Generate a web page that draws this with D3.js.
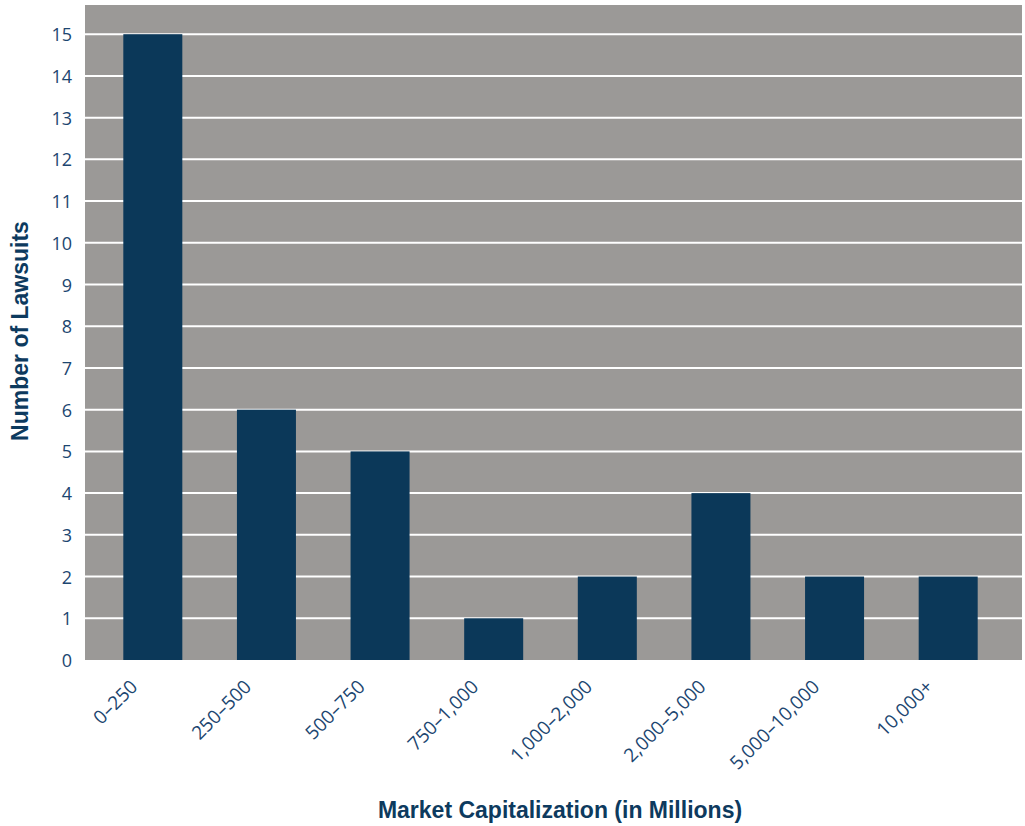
<!DOCTYPE html>
<html>
<head>
<meta charset="utf-8">
<script src="https://cdn.jsdelivr.net/npm/d3@7"></script>
<style>
  body { margin: 0; background: #fff; }
  svg { display: block; }
</style>
</head>
<body>
<svg id="chart"></svg>
<script>
// ---------- data ----------
var categories = ["0–250", "250–500", "500–750", "750–1,000", "1,000–2,000", "2,000–5,000", "5,000–10,000", "10,000+"];
var lawsuits = [15, 6, 5, 1, 2, 4, 2, 2];
var yTicks = [0, 1, 2, 3, 4, 5, 6, 7, 8, 9, 10, 11, 12, 13, 14, 15];

var screen = {width: 1025, height: 826};
var plot = {left: 85, right: 1022, top: 5, bottom: 660};

var svg = d3.select("#chart")
  .attr("width", screen.width)
  .attr("height", screen.height);

// ---------- scales ----------
var xScale = d3.scaleBand()
  .domain(categories)
  .range([96, 1005])
  .paddingInner(0.48)
  .paddingOuter(0.24);

var yScale = d3.scaleLinear()
  .domain([0, 15.7])
  .range([plot.bottom, plot.top]);

// ---------- background + grid ----------
svg.append("rect")
  .attr("x", plot.left)
  .attr("y", plot.top)
  .attr("width", plot.right - plot.left)
  .attr("height", plot.bottom - plot.top)
  .attr("fill", "#9b9997");

svg.append("g")
  .selectAll("line")
  .data(yTicks.filter(function (d) { return d > 0; }))
  .enter()
  .append("line")
  .attr("x1", plot.left)
  .attr("x2", plot.right)
  .attr("y1", function (d) { return yScale(d); })
  .attr("y2", function (d) { return yScale(d); })
  .attr("stroke", "#ffffff")
  .attr("stroke-width", 2);

// ---------- bars ----------
var bw = 59;
svg.append("g")
  .selectAll("rect")
  .data(categories)
  .enter()
  .append("rect")
  .attr("x", function (d) { return xScale(d) + xScale.bandwidth() / 2 - bw / 2; })
  .attr("y", function (d, i) { return yScale(lawsuits[i]); })
  .attr("width", bw)
  .attr("height", function (d, i) { return plot.bottom - yScale(lawsuits[i]); })
  .attr("fill", "#0b3859");

// ---------- axes ----------
var yAxis = svg.append("g")
  .attr("transform", "translate(" + (plot.left - 13) + ",0)")
  .call(d3.axisLeft(yScale).tickValues(yTicks).tickSize(0).tickPadding(0));
yAxis.select(".domain").remove();
yAxis.selectAll("text")
  .attr("fill", "#1c4670")
  .attr("dy", "0.36em")
  .style("font-family", "'Open Sans', sans-serif")
  .style("font-size", "18px");

var xAxis = svg.append("g")
  .attr("transform", "translate(0," + plot.bottom + ")")
  .call(d3.axisBottom(xScale).tickSize(0).tickPadding(0));
xAxis.select(".domain").remove();
xAxis.selectAll("text")
  .attr("fill", "#1c4670")
  .attr("text-anchor", "end")
  .attr("dy", "0")
  .attr("y", 0)
  .attr("transform", "translate(-14,28) rotate(-45)")
  .style("font-family", "'Open Sans', sans-serif")
  .style("font-size", "19px");

// ---------- titles ----------
svg.append("text")
  .attr("x", 560)
  .attr("y", 818)
  .attr("text-anchor", "middle")
  .attr("fill", "#0d3a5e")
  .style("font-family", "'Liberation Sans', Arial, sans-serif")
  .style("font-weight", "bold")
  .style("font-size", "23px")
  .text("Market Capitalization (in Millions)");

svg.append("text")
  .attr("transform", "translate(28,331) rotate(-90)")
  .attr("text-anchor", "middle")
  .attr("fill", "#0d3a5e")
  .style("font-family", "'Liberation Sans', Arial, sans-serif")
  .style("font-weight", "bold")
  .style("font-size", "23px")
  .text("Number of Lawsuits");
</script>
</body>
</html>
